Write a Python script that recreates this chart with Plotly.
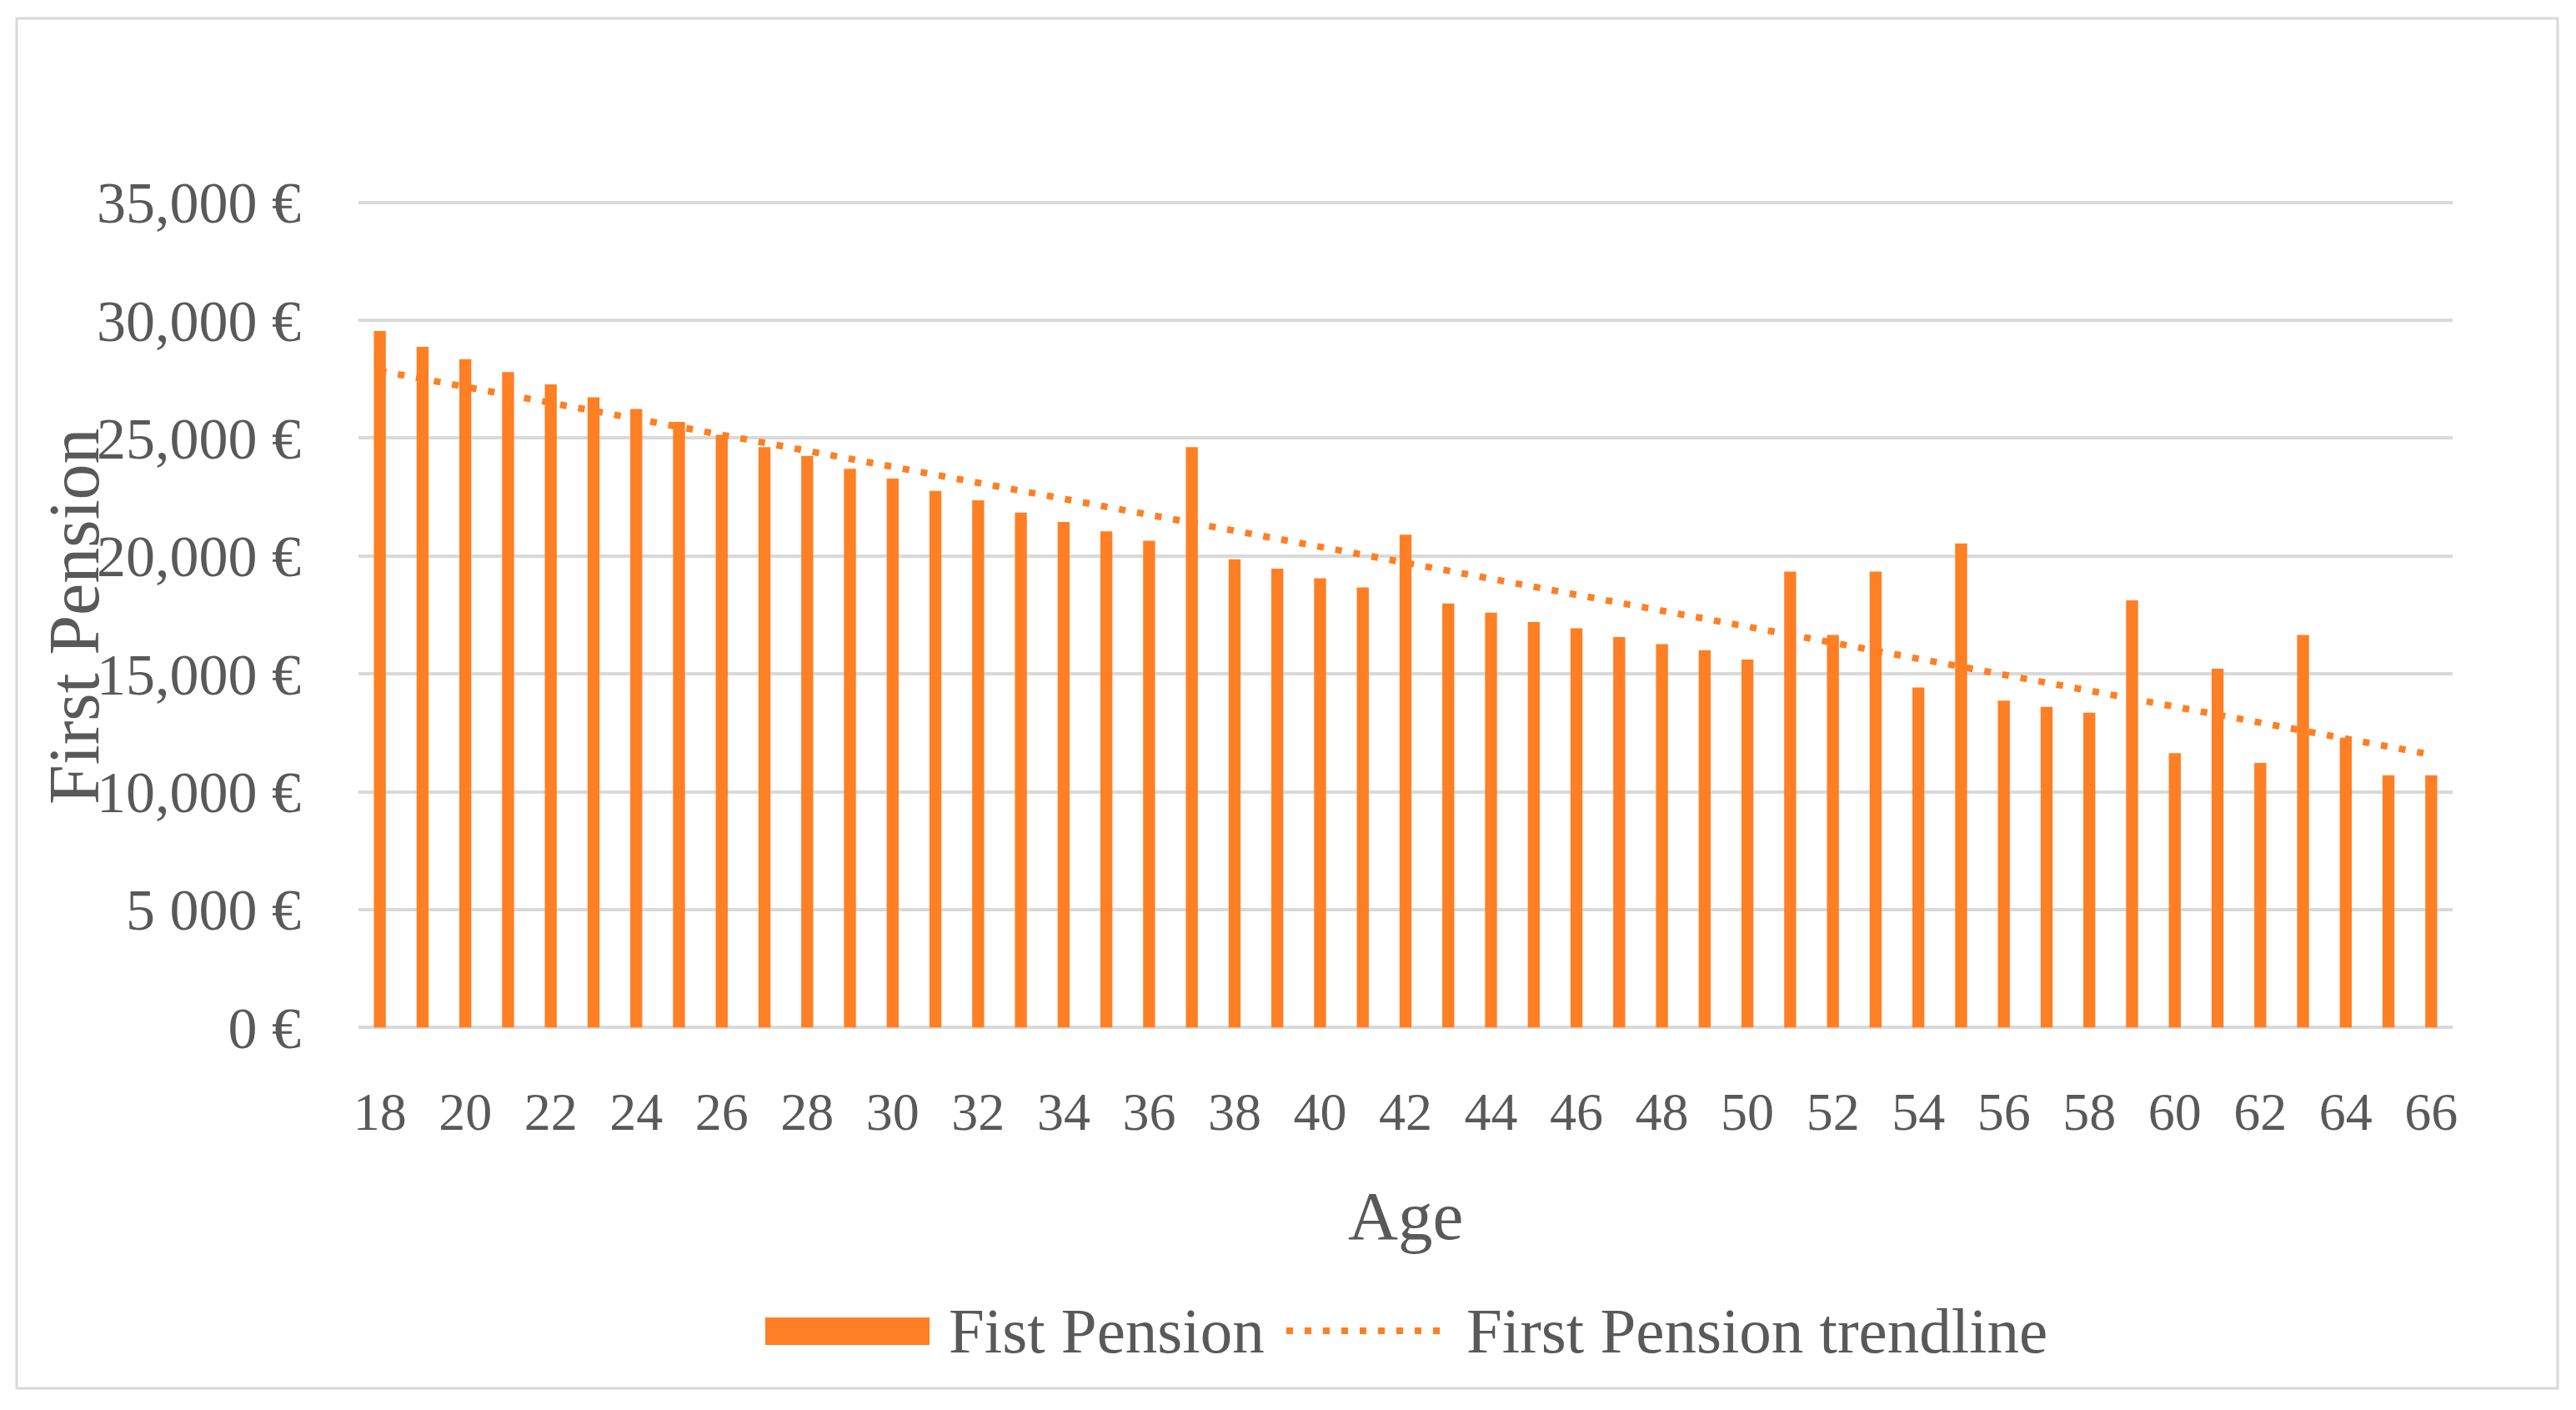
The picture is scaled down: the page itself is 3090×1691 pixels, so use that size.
import numpy as np
import plotly.graph_objects as go

ages = list(range(18, 67))
first_pension = [
    29540, 28870, 28350, 27800, 27280, 26730, 26240, 25690, 25140, 24620,
    24250, 23700, 23280, 22760, 22360, 21840, 21440, 21050, 20650, 24620,
    19860, 19460, 19060, 18670, 20900, 17990, 17600, 17200, 16930, 16560,
    16260, 16010, 15610, 19340, 16650, 19340, 14420, 20530, 13870, 13600,
    13350, 18120, 11640, 15220, 11220, 16650, 12290, 10700, 10700,
]
y_tickvals = [0, 5000, 10000, 15000, 20000, 25000, 30000, 35000]
y_ticktext = ["0 €", "5 000 €", "10,000 €", "15,000 €", "20,000 €", "25,000 €", "30,000 €", "35,000 €"]
x_tickvals = ages[::2]
series_name = "Fist Pension"
trend_name = "First Pension trendline"

# linear trendline fitted to the data (as Excel does)
coef = np.polyfit(ages, first_pension, 1)
trend = np.polyval(coef, ages)

ORANGE = "#FF7F24"
GRAY = "#595959"
GRID = "#D9D9D9"
FONT = "Liberation Serif, Times New Roman, serif"

OFF = 8  # page body margin
W, H = 3090 - OFF, 1691 - OFF

# target pixel positions (reference image coordinates)
X_LEFT, X_RIGHT = 430, 2942
Y_ZERO, Y_TOP = 1232, 243
scale = (Y_ZERO - Y_TOP) / 35000.0
PAD = 60
L = X_LEFT - OFF
R = W - (X_RIGHT - OFF)
T = round(Y_TOP - OFF - PAD * scale)
B = round(H - (Y_ZERO - OFF + PAD * scale))
pw, ph = W - L - R, H - T - B

def px(x):
    return (x - OFF - L) / pw

def py(y):
    return (H - B - (y - OFF)) / ph

fig = go.Figure()
fig.add_trace(go.Bar(x=ages, y=first_pension, name=series_name, marker=dict(color=ORANGE, line=dict(width=0)),
                     width=0.28, showlegend=False))
fig.add_trace(go.Scatter(x=ages, y=trend, name=trend_name, mode="lines",
                         line=dict(color=ORANGE, width=8, dash="8px,14px"), showlegend=False))

fig.update_layout(
    width=W, height=H,
    margin=dict(l=L, r=R, t=T, b=B, autoexpand=False),
    plot_bgcolor="white", paper_bgcolor="white",
    font=dict(family=FONT, color=GRAY, size=62),
    showlegend=False,
    xaxis=dict(range=[17.5, 66.5], tickmode="array", tickvals=x_tickvals,
               showgrid=False, zeroline=False, showline=False, ticks="",
               tickfont=dict(size=64, color=GRAY), ticklabelstandoff=56),
    yaxis=dict(range=[-PAD, 35000 + PAD], tickmode="array", tickvals=y_tickvals, ticktext=y_ticktext,
               showgrid=True, gridcolor=GRID, gridwidth=3.5, zeroline=False, showline=False,
               ticks="", tickfont=dict(size=70, color=GRAY), ticklabelstandoff=68),
    bargap=0.7,
)

annotations = [
    dict(text="First Pension", x=px(89), y=py(739), xref="paper", yref="paper", textangle=-90,
         showarrow=False, font=dict(size=86, color=GRAY, family=FONT), xanchor="center", yanchor="middle"),
    dict(text="Age", x=px(1686), y=py(1458), xref="paper", yref="paper", showarrow=False,
         font=dict(size=83, color=GRAY, family=FONT), xanchor="center", yanchor="middle"),
    dict(text=series_name, x=px(1136), y=py(1596), xref="paper", yref="paper", showarrow=False,
         font=dict(size=77, color=GRAY, family=FONT), xanchor="left", yanchor="middle"),
    dict(text=trend_name, x=px(1757), y=py(1596), xref="paper", yref="paper", showarrow=False,
         font=dict(size=77, color=GRAY, family=FONT), xanchor="left", yanchor="middle"),
]
shapes = [
    dict(type="rect", xref="paper", yref="paper", x0=px(20), x1=px(3068), y0=py(22), y1=py(1665),
         line=dict(color=GRID, width=3), fillcolor="rgba(0,0,0,0)", layer="below"),
    dict(type="rect", xref="paper", yref="paper", x0=px(918), x1=px(1115), y0=py(1580), y1=py(1613),
         line=dict(width=0), fillcolor=ORANGE),
    dict(type="line", xref="paper", yref="paper", x0=px(1543), x1=px(1728), y0=py(1596), y1=py(1596),
         line=dict(color=ORANGE, width=8, dash="8px,14px")),
]
fig.update_layout(annotations=annotations, shapes=shapes)

fig.write_html("out.html")
